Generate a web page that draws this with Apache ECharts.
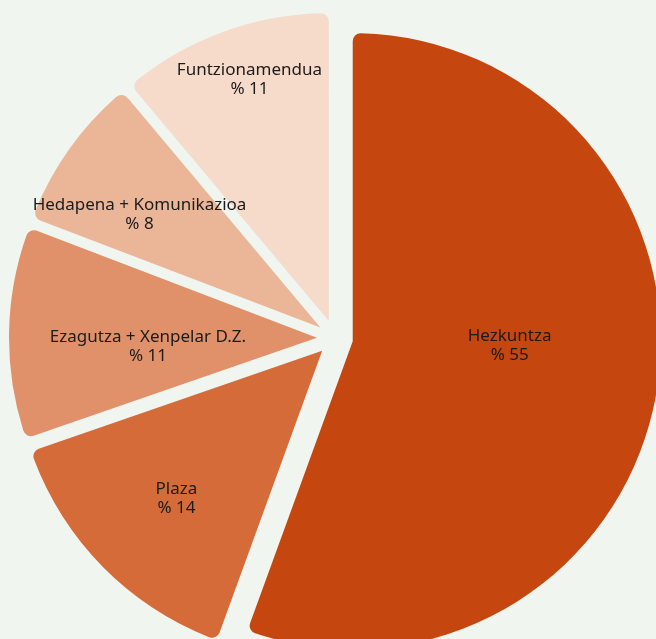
<!DOCTYPE html>
<html>
<head>
<meta charset="utf-8">
<script src="https://cdn.jsdelivr.net/npm/echarts@6/dist/echarts.min.js"></script>
<style>
  html, body { margin: 0; padding: 0; background: #f0f5ef; }
  #chart { width: 656px; height: 639px; }
</style>
</head>
<body>
<div id="chart"></div>
<script>
// Budget shares by area (percent)
const categories = ['Hezkuntza', 'Plaza', 'Ezagutza + Xenpelar D.Z.', 'Hedapena + Komunikazioa', 'Funtzionamendua'];
const shares = [55, 14, 11, 8, 11];
const sliceColors = ['#c5470f', '#d56b38', '#e0916a', '#ebb697', '#f6dbcb'];
// where each label sits: fraction of the radius, and a turn (degrees) away from the slice's middle
const labelReach = [0.5, 0.666, 0.54, 0.683, 0.815];
const labelTurn = [-8.5, -1, -4.1, -3.45, 1.8];

const R = 308;
const total = shares.reduce((a, b) => a + b, 0);
let acc = 0;
const labelShift = [];
const pieData = categories.map((name, i) => {
  const start = acc / total * 2 * Math.PI;
  acc += shares[i];
  const end = acc / total * 2 * Math.PI;
  const mid = (start + end) / 2;
  const a = mid + labelTurn[i] * Math.PI / 180;
  const r = labelReach[i] * R;
  labelShift.push([
    Math.sin(a) * r - Math.sin(mid) * R * 0.5,
    -Math.cos(a) * r + Math.cos(mid) * R * 0.5
  ]);
  return {
    name: name,
    value: shares[i],
    selected: true,
    itemStyle: { color: sliceColors[i] }
  };
});

const chart = echarts.init(document.getElementById('chart'), null, { renderer: 'canvas' });
chart.setOption({
  backgroundColor: '#f0f5ef',
  animation: false,
  series: [{
    type: 'pie',
    center: [335, 338],
    radius: [0, R],
    startAngle: 90,
    clockwise: true,
    selectedMode: 'multiple',
    selectedOffset: 18,
    avoidLabelOverlap: false,
    itemStyle: { borderRadius: 8 },
    label: {
      show: true,
      position: 'inside',
      formatter: p => p.name + '\n% ' + p.value,
      color: '#1b1b1b',
      fontFamily: 'Noto Sans',
      fontSize: 17,
      lineHeight: 19
    },
    labelLine: { show: false },
    labelLayout: p => ({ dx: labelShift[p.dataIndex][0], dy: labelShift[p.dataIndex][1] }),
    emphasis: { disabled: true },
    select: { itemStyle: {} },
    data: pieData
  }]
});
</script>
</body>
</html>
